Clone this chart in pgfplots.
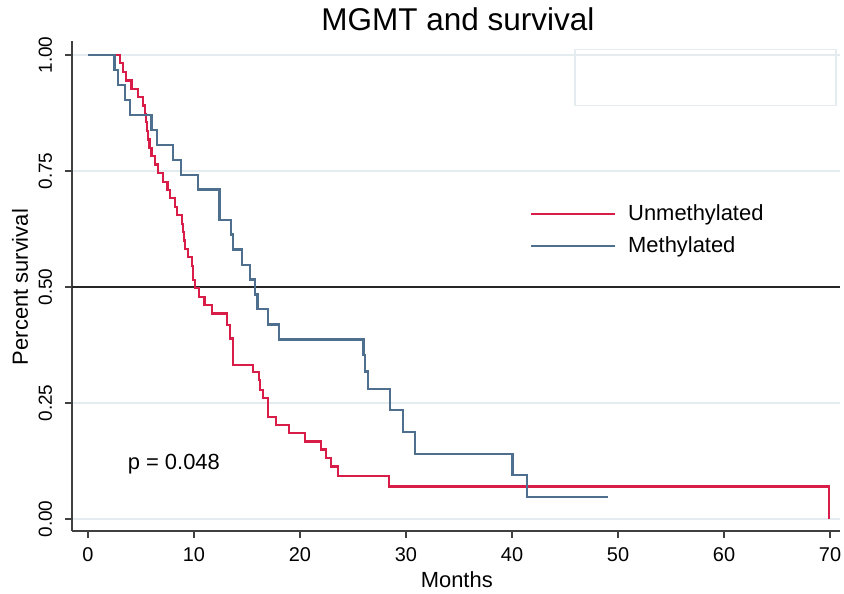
\documentclass[border=0pt]{standalone}
\usepackage{fontspec}
\setmainfont{Liberation Sans}
\usepackage{pgfplots}
\pgfplotsset{compat=1.18}
\definecolor{kmred}{RGB}{216,30,72}
\definecolor{kmblue}{RGB}{78,112,142}
\definecolor{gridc}{RGB}{228,236,240}

\begin{document}
\begin{tikzpicture}
\begin{axis}[
    x=5.3bp, y=232bp,
    xmin=-1.5, xmax=70.94, ymin=-0.026, ymax=1.03,
    clip=false,
    axis x line=bottom, axis y line=left,
    axis line style={-, black!75, line width=0.7bp},
    tick align=outside, major tick length=3.5bp,
    tick style={black!75, line width=0.6bp},
    xtick={0,10,...,70}, ytick={0,0.25,0.5,0.75,1},
    /pgf/number format/assume math mode=true,
    xticklabel style={font=\fontsize{10}{12}\selectfont},
    xticklabel shift=1bp,
    yticklabel shift=3bp,
    yticklabel style={rotate=90, anchor=south, font=\fontsize{9.5}{11}\selectfont,
        /pgf/number format/.cd, fixed, fixed zerofill, precision=2},
    ymajorgrids, major grid style={gridc, line width=0.6bp},
    xlabel={Months},
    xlabel style={at={(0.501,-0.1)}, anchor=center, font=\fontsize{11}{13}\selectfont},
    ylabel={Percent survival},
    ylabel style={at={(-0.0677,0.498)}, anchor=center, font=\fontsize{11}{13}\selectfont},
    legend style={draw=none, fill=none, at={(axis cs:41.1,0.623)}, anchor=west,
        font=\fontsize{11}{13}\selectfont, row sep=2.5bp,
        /tikz/every odd column/.append style={column sep=4bp}},
    legend cell align=left,
    legend image code/.code={\draw[#1] (0bp,0bp) -- (42bp,0bp);},
]
% title
\node[font=\fontsize{15.8}{19}\selectfont, inner sep=0pt] at (axis cs:34.9,1.077) {MGMT and survival};
% light empty box at top right
\draw[gridc, line width=0.6bp] (axis cs:45.94,1.011) rectangle (axis cs:70.57,0.892);
% median reference line
\addplot[black!85, line width=0.8bp, forget plot] coordinates {(-1.5,0.5) (70.94,0.5)};

\addplot[const plot, kmred, line width=1.1bp] coordinates {
(0,1) (3.0,0.982) (3.33,0.964) (3.6,0.945) (4.1,0.927) (4.75,0.909) (5.2,0.891)
(5.38,0.873) (5.47,0.855) (5.55,0.836) (5.65,0.818) (5.8,0.800) (6.0,0.782)
(6.3,0.764) (6.6,0.745) (7.1,0.727) (7.5,0.709) (7.73,0.691) (8.2,0.673)
(8.36,0.655) (8.84,0.636) (9.0,0.618) (9.05,0.600) (9.15,0.582) (9.47,0.564)
(9.78,0.545) (9.94,0.515) (10.1,0.497) (10.5,0.479) (11.0,0.461) (11.67,0.443)
(13.1,0.418) (13.4,0.389) (13.65,0.332) (15.6,0.317) (16.1,0.300) (16.2,0.278)
(16.54,0.260) (17.0,0.220) (17.7,0.203) (19.0,0.185) (20.5,0.167) (21.95,0.150)
(22.45,0.132) (22.9,0.113) (23.55,0.093) (28.4,0.070) (69.9,0.0)
};
\addlegendentry{Unmethylated}

\addplot[const plot, kmblue, line width=1.1bp] coordinates {
(0,1) (2.5,0.968) (2.8,0.935) (3.5,0.903) (4.0,0.871) (6.0,0.839) (6.5,0.806)
(8.05,0.774) (8.8,0.742) (10.4,0.710) (12.4,0.645) (13.5,0.613) (13.7,0.581)
(14.5,0.548) (15.3,0.516) (15.75,0.484) (16.0,0.452) (17.0,0.419) (18.05,0.387)
(26.0,0.353) (26.15,0.318) (26.4,0.280) (28.5,0.235) (29.7,0.187) (30.85,0.140)
(40.05,0.094) (41.45,0.047) (49.1,0.047)
};
\addlegendentry{Methylated}

\node[font=\fontsize{11}{13}\selectfont] at (axis cs:8.1,0.1185) {p = 0.048};

\coordinate (bbl) at (axis cs:-8.30,-0.1595);
\coordinate (btr) at (axis cs:71.32,1.1185);
\end{axis}
\pgfresetboundingbox
\path[use as bounding box] (bbl) rectangle (btr);
\end{tikzpicture}
\end{document}
